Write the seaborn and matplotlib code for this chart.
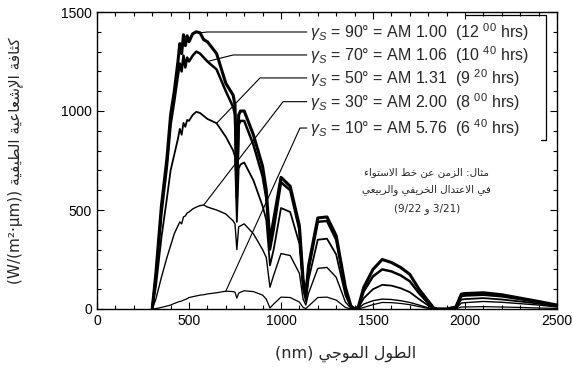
import numpy as np
import pandas as pd
import seaborn as sns
import matplotlib.pyplot as plt
from matplotlib.ticker import MultipleLocator

# wavelength grid (nm) and spectral irradiance
wl = [300, 320, 350, 380, 400, 420, 440, 450, 460, 470, 480, 490, 500, 520, 540, 560, 580, 600,
      650, 700, 740, 750, 760, 770, 780, 800, 850, 900, 920, 940, 960, 1000, 1050, 1100, 1120,
      1135, 1150, 1200, 1250, 1300, 1350, 1380, 1400, 1420, 1450, 1500, 1550, 1600, 1650, 1700,
      1750, 1800, 1830, 1850, 1900, 1950, 1980, 2000, 2100, 2200, 2300, 2400, 2500]

am100 = [0, 180, 520, 760, 980, 1100, 1250, 1340, 1290, 1385, 1330, 1380, 1350, 1390, 1400, 1395, 1360, 1350,
         1290, 1140, 1080, 1030, 620, 980, 1000, 1000, 880, 720, 600, 340, 450, 665, 620, 420, 150,
         70, 220, 460, 465, 370, 110, 15, 0, 10, 110, 200, 250, 235, 210, 175,
         100, 40, 5, 0, 0, 10, 75, 78, 82, 72, 55, 38, 20]
am106 = [0, 160, 480, 720, 930, 1050, 1180, 1240, 1200, 1280, 1220, 1270, 1250, 1280, 1300, 1290, 1270, 1250,
         1210, 1100, 1020, 980, 560, 930, 950, 950, 830, 670, 560, 300, 400, 640, 600, 400, 130,
         60, 200, 440, 445, 350, 100, 12, 0, 8, 90, 165, 200, 190, 170, 140,
         80, 30, 4, 0, 0, 8, 65, 68, 72, 64, 50, 35, 18]
am131 = [0, 110, 360, 560, 700, 780, 860, 910, 880, 940, 920, 955, 950, 980, 996, 990, 975, 960,
         938, 870, 800, 770, 440, 710, 730, 740, 650, 520, 450, 220, 300, 510, 490, 330, 100,
         40, 150, 350, 355, 275, 70, 8, 0, 5, 55, 100, 122, 118, 105, 85,
         50, 18, 2, 0, 0, 5, 48, 50, 55, 48, 38, 27, 14]
am200 = [0, 50, 160, 260, 320, 380, 420, 440, 430, 465, 470, 485, 490, 505, 515, 522, 525, 515,
         500, 480, 445, 430, 300, 415, 420, 430, 380, 300, 260, 110, 170, 280, 270, 180, 50,
         20, 80, 205, 210, 160, 35, 4, 0, 2, 25, 42, 50, 48, 42, 33,
         20, 6, 0, 0, 0, 2, 30, 32, 38, 34, 27, 20, 10]
am576 = [0, 2, 8, 15, 20, 28, 35, 38, 40, 45, 48, 52, 58, 62, 66, 70, 72, 76,
         82, 90, 88, 85, 55, 80, 85, 92, 88, 70, 50, 5, 25, 60, 58, 35, 8,
         2, 15, 58, 60, 45, 8, 0, 0, 0, 8, 22, 33, 32, 28, 22,
         12, 3, 0, 0, 0, 0, 10, 10, 12, 10, 8, 5, 3]

series = [am100, am106, am131, am200, am576]
widths = [2.2, 1.8, 1.3, 1.0, 0.9]
labels = [r"$\gamma_S$ = 90° = AM 1.00  (12 $^{00}$ hrs)",
          r"$\gamma_S$ = 70° = AM 1.06  (10 $^{40}$ hrs)",
          r"$\gamma_S$ = 50° = AM 1.31  (9 $^{20}$ hrs)",
          r"$\gamma_S$ = 30° = AM 2.00  (8 $^{00}$ hrs)",
          r"$\gamma_S$ = 10° = AM 5.76  (6 $^{40}$ hrs)"]
anchor_wl = [560, 600, 650, 580, 700]
elbow = [(600, 1399), (740, 1283), (886, 1167), (1011, 1047), (1103, 914)]
row_y = [1399, 1283, 1167, 1047, 914]

# --- minimal Arabic shaping (matplotlib has no bidi / joining support) ---
FORMS = {'ء': (0xFE80, 1), 'آ': (0xFE81, 2), 'أ': (0xFE83, 2), 'إ': (0xFE87, 2), 'ا': (0xFE8D, 2),
         'ب': (0xFE8F, 4), 'ة': (0xFE93, 2), 'ت': (0xFE95, 4), 'ث': (0xFE99, 4), 'ج': (0xFE9D, 4),
         'ح': (0xFEA1, 4), 'خ': (0xFEA5, 4), 'د': (0xFEA9, 2), 'ذ': (0xFEAB, 2), 'ر': (0xFEAD, 2),
         'ز': (0xFEAF, 2), 'س': (0xFEB1, 4), 'ش': (0xFEB5, 4), 'ص': (0xFEB9, 4), 'ض': (0xFEBD, 4),
         'ط': (0xFEC1, 4), 'ظ': (0xFEC5, 4), 'ع': (0xFEC9, 4), 'غ': (0xFECD, 4), 'ف': (0xFED1, 4),
         'ق': (0xFED5, 4), 'ك': (0xFED9, 4), 'ل': (0xFEDD, 4), 'م': (0xFEE1, 4), 'ن': (0xFEE5, 4),
         'ه': (0xFEE9, 4), 'و': (0xFEED, 2), 'ى': (0xFEEF, 2), 'ي': (0xFEF1, 4)}
LAMALEF = {'ا': 0xFEFB, 'أ': 0xFEF7, 'إ': 0xFEF9, 'آ': 0xFEF5}


def ar(text):
    toks = []
    i = 0
    while i < len(text):
        c = text[i]
        if c == 'ل' and i + 1 < len(text) and text[i + 1] in LAMALEF:
            toks.append((LAMALEF[text[i + 1]], 2))
            i += 2
            continue
        toks.append(FORMS.get(c, c))
        i += 1
    out = []
    for k, t in enumerate(toks):
        if isinstance(t, str):
            out.append(t)
            continue
        base, n = t
        prev = toks[k - 1] if k > 0 else None
        nxt = toks[k + 1] if k + 1 < len(toks) else None
        jp = isinstance(prev, tuple) and prev[1] == 4 and n >= 2
        jn = n == 4 and isinstance(nxt, tuple) and nxt[1] >= 2
        if jp and jn:
            out.append(chr(base + 3))
        elif jp:
            out.append(chr(base + 1))
        elif jn:
            out.append(chr(base + 2))
        else:
            out.append(chr(base))
    return ''.join(out)[::-1]


sns.set_style("ticks")
plt.rcParams['font.family'] = ['Liberation Sans', 'DejaVu Sans']
plt.rcParams['mathtext.fontset'] = 'custom'
plt.rcParams['mathtext.rm'] = 'Liberation Sans'
plt.rcParams['mathtext.it'] = 'Liberation Sans:italic'

fig = plt.figure(figsize=(5.73, 3.69), dpi=100)
ax = fig.add_axes([97 / 573, 1 - 309 / 369, 460 / 573, 297 / 369])

for vals, lw in zip(series, widths):
    sns.lineplot(x=wl, y=vals, color='black', lw=lw, ax=ax)

# leader lines and labels
for vals, aw, (ex, ey), ry, lab in zip(series, anchor_wl, elbow, row_y, labels):
    ay = vals[wl.index(aw)]
    ax.plot([aw, ex, 1140], [ay, ey, ry], color='black', lw=0.8)
    ax.text(1160, ry, lab, fontsize=11.5, va='center', ha='left')

# partial frame round the labels
ax.plot([2000, 2440, 2440, 2413], [1485, 1485, 854, 854], color='black', lw=0.9)

arfont = ['DejaVu Sans']
note = [ar('مثال: الزمن عن خط الاستواء'),
        ar('في الاعتدال الخريفي والربيعي'),
        '(9/22 ' + ar('و') + ' 3/21)']
for ny, line in zip([692, 601, 505], note):
    ax.text(1793, ny, line, fontsize=7.5, ha='center', va='center', family=arfont)

ax.set_xlim(0, 2500)
ax.set_ylim(0, 1500)
ax.xaxis.set_major_locator(MultipleLocator(500))
ax.xaxis.set_minor_locator(MultipleLocator(100))
ax.yaxis.set_major_locator(MultipleLocator(500))
ax.yaxis.set_minor_locator(MultipleLocator(100))
ax.tick_params(which='both', top=True, right=True, direction='in', colors='black', labelsize=10)
ax.tick_params(which='major', length=5, width=0.8)
ax.tick_params(which='minor', length=3, width=0.8)
for s in ax.spines.values():
    s.set_linewidth(1.0)
    s.set_color('black')

ax.set_xlabel('(nm) ' + ar('الطول الموجي'), fontsize=11.5, family=arfont)
ax.xaxis.set_label_coords(0.54, -0.125)
ax.set_ylabel('(W/(m²·µm)) ' + ar('كثافة الإشعاعية الطيفية'), fontsize=11, family=arfont)
ax.yaxis.set_label_coords(-0.16, 0.5)

fig.savefig('out.png', dpi=100)
